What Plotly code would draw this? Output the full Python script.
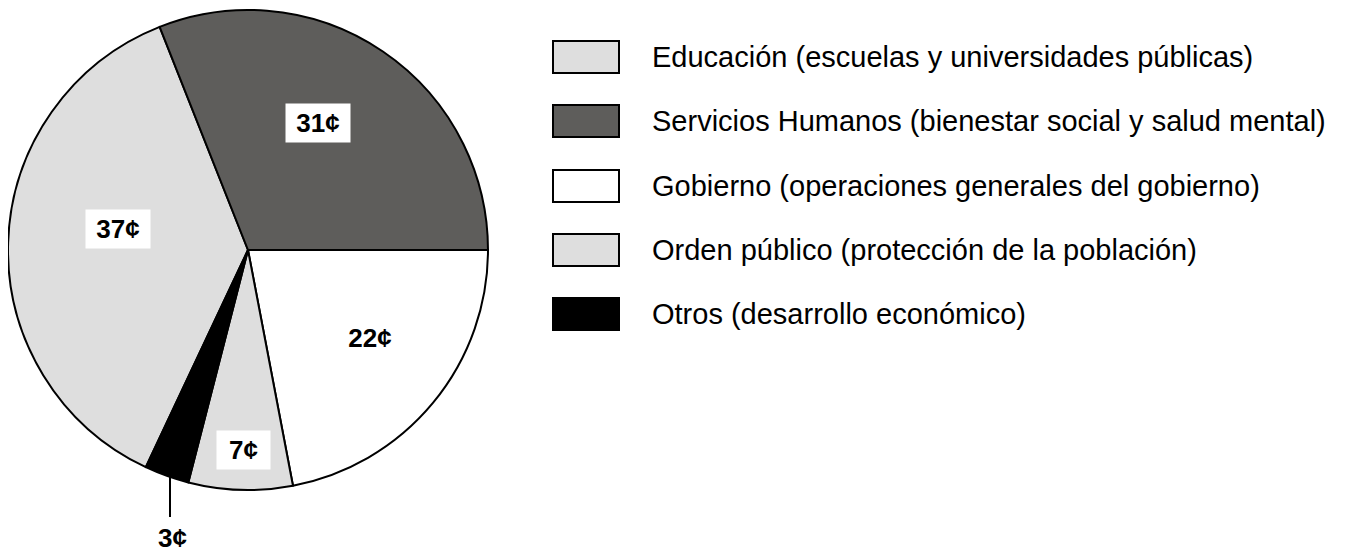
import plotly.graph_objects as go

labels = [
    "Educación (escuelas y universidades públicas)",
    "Servicios Humanos (bienestar social y salud mental)",
    "Gobierno (operaciones generales del gobierno)",
    "Orden público (protección de la población)",
    "Otros (desarrollo económico)",
]
values = [37, 31, 22, 7, 3]
colors = ["#dedede", "#5e5d5b", "#ffffff", "#dedede", "#000000"]

# page has an 8px body margin; figure is sized to fit inside the window
OFF = 8
W, H = 1346 - 2 * OFF, 560 - 2 * OFF


def px(x):
    return (x - OFF) / W


def py(y):
    return 1 - (y - OFF) / H


# pie geometry in page pixels
cx, cy, r = 248, 250, 240

fig = go.Figure()
fig.add_trace(go.Pie(
    labels=labels,
    values=values,
    sort=False,
    direction="clockwise",
    rotation=-154.8,
    marker=dict(colors=colors, line=dict(color="#000000", width=2)),
    textinfo="none",
    hoverinfo="label+value",
    showlegend=False,
    domain=dict(x=[px(cx - r), px(cx + r)], y=[py(cy + r), py(cy - r)]),
))

# value labels (centres of the label boxes)
label_pos = [(118, 229, True, 64), (318, 123, True, 64), (370, 338, False, 64),
             (243, 450, True, 53), (172, 538, False, 53)]
for v, (lx, ly, boxed, bw) in zip(values, label_pos):
    fig.add_annotation(
        x=px(lx), y=py(ly), xref="paper", yref="paper",
        text=f"<b>{v}¢</b>", showarrow=False,
        font=dict(family="Liberation Sans, Arial", size=26, color="#000000"),
        bgcolor="#ffffff" if boxed else "rgba(0,0,0,0)",
        width=bw - 4, height=34, borderpad=2,
        xanchor="center", yanchor="middle",
    )

# leader line for the small slice
fig.add_shape(type="line", xref="paper", yref="paper",
              x0=px(170), x1=px(170), y0=py(477), y1=py(517),
              line=dict(color="#000000", width=2))

# custom legend
sw_x0, sw_x1, sw_h = 553, 619, 32
row_y = [57, 121, 186, 250, 314]
for lab, col, yc in zip(labels, colors, row_y):
    fig.add_shape(type="rect", xref="paper", yref="paper",
                  x0=px(sw_x0), x1=px(sw_x1), y0=py(yc + sw_h / 2), y1=py(yc - sw_h / 2),
                  fillcolor=col, line=dict(color="#000000", width=2))
    fig.add_annotation(
        x=px(650), y=py(yc), xref="paper", yref="paper",
        text=lab, showarrow=False, xanchor="left", yanchor="middle",
        font=dict(family="Liberation Sans, Arial", size=29, color="#000000"),
    )

fig.update_layout(
    width=W, height=H,
    margin=dict(l=0, r=0, t=0, b=0),
    paper_bgcolor="#ffffff",
    plot_bgcolor="#ffffff",
)

fig.write_html("out.html")
